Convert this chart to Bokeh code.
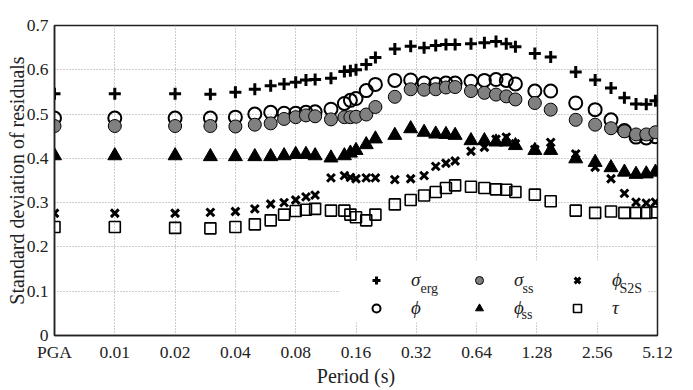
from bokeh.plotting import figure
from bokeh.models import FixedTicker, Legend, LegendItem, Label, BoxAnnotation, Range1d
from bokeh.embed import file_html
from bokeh.resources import INLINE

# ---- data ----
PGA_POSITION = 0.005  # PGA is drawn one octave left of 0.01 s
periods = [PGA_POSITION, 0.01, 0.02, 0.03, 0.04, 0.05, 0.06, 0.07, 0.08, 0.09, 0.1,
           0.12, 0.14, 0.15, 0.16, 0.18, 0.2, 0.25, 0.3, 0.35, 0.4, 0.45, 0.5,
           0.6, 0.7, 0.8, 0.9, 1.0, 1.25, 1.5, 2.0, 2.5, 3.0, 3.5, 4.0, 4.5, 5.0]

sigma_erg = [0.546, 0.546, 0.546, 0.545, 0.549, 0.556, 0.564, 0.568, 0.572, 0.577, 0.578,
             0.581, 0.596, 0.598, 0.600, 0.612, 0.628, 0.647, 0.653, 0.650, 0.655, 0.657, 0.657,
             0.659, 0.661, 0.664, 0.659, 0.652, 0.637, 0.629, 0.595, 0.577, 0.559, 0.537, 0.523, 0.522, 0.530]
phi = [0.491, 0.491, 0.491, 0.491, 0.493, 0.500, 0.504, 0.502, 0.502, 0.504, 0.505,
       0.511, 0.524, 0.531, 0.535, 0.553, 0.567, 0.576, 0.577, 0.570, 0.568, 0.570, 0.570,
       0.574, 0.576, 0.578, 0.576, 0.568, 0.552, 0.552, 0.525, 0.510, 0.487, 0.463, 0.448, 0.446, 0.449]
sigma_ss = [0.473, 0.473, 0.473, 0.473, 0.472, 0.476, 0.479, 0.489, 0.493, 0.497, 0.495,
            0.488, 0.493, 0.493, 0.494, 0.499, 0.516, 0.539, 0.556, 0.555, 0.556, 0.560, 0.561,
            0.552, 0.548, 0.544, 0.540, 0.533, 0.525, 0.510, 0.487, 0.476, 0.468, 0.461, 0.454, 0.454, 0.459]
phi_ss = [0.406, 0.406, 0.406, 0.404, 0.404, 0.404, 0.404, 0.406, 0.409, 0.409, 0.406,
          0.401, 0.406, 0.412, 0.418, 0.431, 0.444, 0.452, 0.467, 0.459, 0.455, 0.454, 0.452,
          0.440, 0.440, 0.437, 0.437, 0.429, 0.418, 0.418, 0.399, 0.391, 0.379, 0.369, 0.364, 0.365, 0.369]
phi_s2s = [0.276, 0.276, 0.276, 0.278, 0.280, 0.286, 0.297, 0.300, 0.306, 0.313, 0.317,
           0.356, 0.361, 0.357, 0.354, 0.356, 0.356, 0.352, 0.354, 0.361, 0.382, 0.389, 0.394,
           0.416, 0.425, 0.443, 0.448, 0.433, 0.420, 0.436, 0.410, 0.380, 0.354, 0.321, 0.301, 0.299, 0.301]
tau = [0.245, 0.245, 0.243, 0.242, 0.245, 0.251, 0.260, 0.273, 0.281, 0.284, 0.286,
       0.282, 0.282, 0.273, 0.267, 0.260, 0.273, 0.296, 0.306, 0.316, 0.324, 0.333, 0.339,
       0.336, 0.333, 0.330, 0.329, 0.324, 0.318, 0.303, 0.282, 0.277, 0.280, 0.277, 0.277, 0.277, 0.278]

x_ticks = [PGA_POSITION, 0.01, 0.02, 0.04, 0.08, 0.16, 0.32, 0.64, 1.28, 2.56, 5.12]
x_tick_labels = ["PGA", "0.01", "0.02", "0.04", "0.08", "0.16", "0.32", "0.64", "1.28", "2.56", "5.12"]
y_ticks = [0, 0.1, 0.2, 0.3, 0.4, 0.5, 0.6, 0.7]
y_tick_labels = ["0", "0.1", "0.2", "0.3", "0.4", "0.5", "0.6", "0.7"]

FONT = "Liberation Serif"

p = figure(frame_width=603, frame_height=310, x_axis_type="log",
           x_range=Range1d(PGA_POSITION, 5.12), y_range=Range1d(0, 0.7),
           output_backend="svg", toolbar_location=None,
           min_border_left=54, min_border_right=20, min_border_top=25, min_border_bottom=40)

p.outline_line_color = "#222222"
p.outline_line_width = 1.5
p.background_fill_color = "white"

for ax in (p.xaxis[0], p.yaxis[0]):
    ax.axis_line_color = "#222222"
    ax.axis_line_width = 1.5
    ax.major_tick_in = 0
    ax.major_tick_out = 0
    ax.minor_tick_in = 0
    ax.minor_tick_out = 0
    ax.major_label_text_font = FONT
    ax.major_label_text_font_size = "17.5px"
    ax.major_label_text_color = "#222222"
    ax.axis_label_text_font = FONT
    ax.axis_label_text_font_size = "20px"
    ax.axis_label_text_font_style = "normal"
    ax.axis_label_text_color = "#222222"

p.xaxis.ticker = FixedTicker(ticks=x_ticks)
p.xaxis.major_label_overrides = dict(zip(x_ticks, x_tick_labels))
p.yaxis.ticker = FixedTicker(ticks=y_ticks)
p.yaxis.major_label_overrides = dict(zip(y_ticks, y_tick_labels))
p.xaxis.axis_label = "Period (s)"
p.yaxis.axis_label = "Standard deviation of residuals"
p.xaxis.major_label_standoff = 6
p.xaxis.axis_label_standoff = 0
p.yaxis.major_label_standoff = 6
p.yaxis.axis_label_standoff = -4

for g in (p.xgrid[0], p.ygrid[0]):
    g.grid_line_color = "#9a9a9a"
    g.grid_line_dash = "1 2"
    g.grid_line_width = 1
p.xgrid.ticker = FixedTicker(ticks=x_ticks)
p.ygrid.ticker = FixedTicker(ticks=y_ticks)

r_tau = p.scatter(periods, tau, marker="square", size=11, line_color="black",
                  line_width=1.6, fill_alpha=0)
r_phi = p.scatter(periods, phi, marker="circle", size=13, line_color="black",
                  line_width=2, fill_alpha=0)
r_sss = p.scatter(periods, sigma_ss, marker="circle", size=13, line_color="black",
                  line_width=1, fill_color="#808080")
r_phss = p.scatter(periods, phi_ss, marker="triangle", size=14, line_color="black",
                   line_width=1, fill_color="black")
r_s2s = p.scatter(periods, phi_s2s, marker="x", size=11, line_color="black", line_width=3)
r_erg = p.scatter(periods, sigma_erg, marker="cross", size=12, line_color="black", line_width=3)

# white panel behind the legend
p.add_layout(BoxAnnotation(left=285, right=593, bottom=13, top=75,
                           left_units="screen", right_units="screen",
                           bottom_units="screen", top_units="screen",
                           fill_color="white", fill_alpha=1, line_color=None))

def make_legend(items, x):
    lg = Legend(items=items, location=(x, 16), orientation="vertical",
                label_text_font=FONT, label_text_font_style="italic",
                label_text_font_size="19px", label_text_color="#222222",
                glyph_width=20, glyph_height=20, label_height=20,
                label_standoff=25, padding=0, spacing=6, margin=0,
                border_line_color=None, background_fill_alpha=0)
    p.add_layout(lg, "center")

make_legend([LegendItem(label="σ", renderers=[r_erg]),
             LegendItem(label="ϕ", renderers=[r_phi])], 312)
make_legend([LegendItem(label="σ", renderers=[r_sss]),
             LegendItem(label="ϕ", renderers=[r_phss])], 415)
make_legend([LegendItem(label="ϕ", renderers=[r_s2s]),
             LegendItem(label="τ", renderers=[r_tau])], 513)

subs = [("erg", 366, 47), ("ss", 468, 47), ("S2S", 565, 47), ("ss", 467, 21)]
for txt, sx, sy in subs:
    p.add_layout(Label(x=sx, y=sy, x_units="screen", y_units="screen", text=txt,
                       text_font=FONT, text_font_size="14px", text_color="#222222",
                       text_baseline="middle", text_align="left"))

open("out.html", "w").write(file_html(p, INLINE))
